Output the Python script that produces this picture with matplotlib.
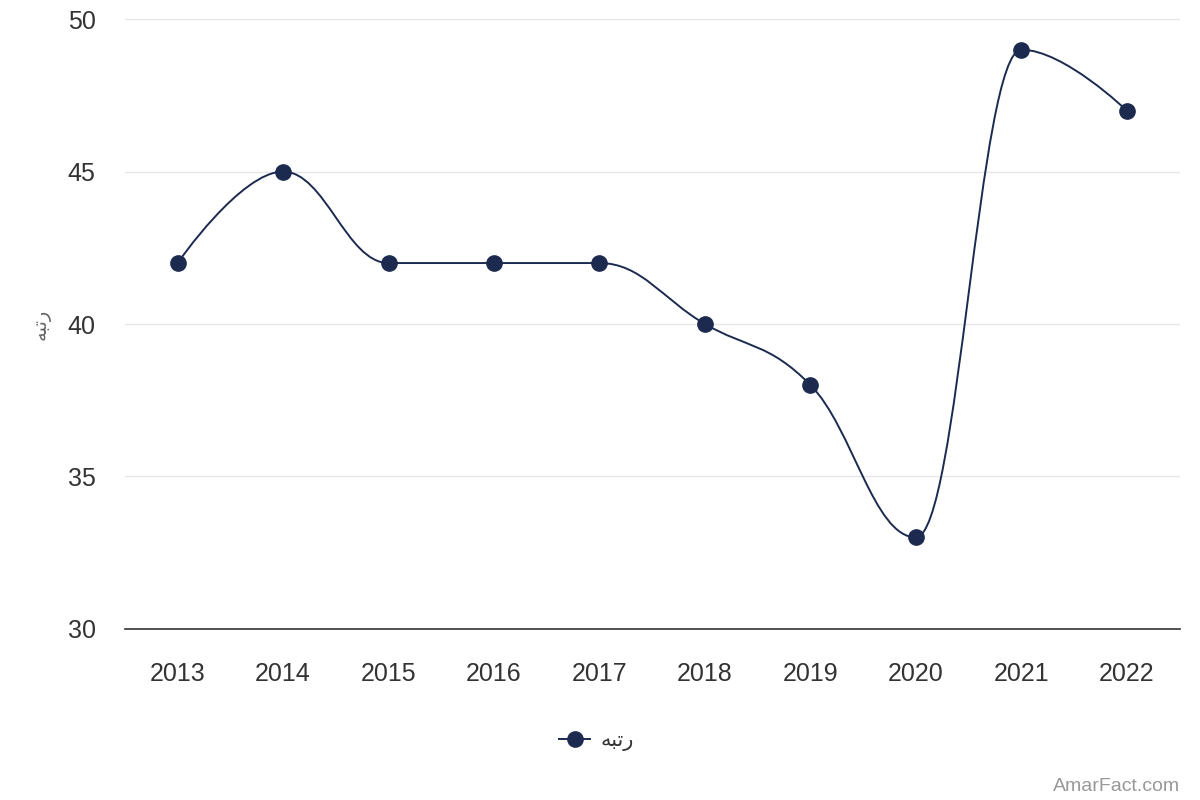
import matplotlib.pyplot as plt
from matplotlib.path import Path
from matplotlib.patches import PathPatch
from matplotlib.lines import Line2D

plt.rcParams['font.family'] = ['Liberation Sans', 'DejaVu Sans']

years = ["2013", "2014", "2015", "2016", "2017", "2018", "2019", "2020", "2021", "2022"]
rank = [42, 45, 42, 42, 42, 40, 38, 33, 49, 47]
y_ticks = [30, 35, 40, 45, 50]
series_name = "\uFEEA\uFE92\uFE97\uFEAD"  # رتبه in shaped visual order

navy = "#1b2a4e"


def spline_path(xs, ys, smoothing=1.5):
    # bezier control points like a Highcharts spline
    denom = smoothing + 1
    n = len(xs)
    verts = [(xs[0], ys[0])]
    codes = [Path.MOVETO]
    ctrl = []
    for i in range(n):
        x, y = xs[i], ys[i]
        if i == 0 or i == n - 1:
            ctrl.append((x, y, x, y))
            continue
        px, py = xs[i - 1], ys[i - 1]
        nx, ny = xs[i + 1], ys[i + 1]
        lx = (smoothing * x + px) / denom
        ly = (smoothing * y + py) / denom
        rx = (smoothing * x + nx) / denom
        ry = (smoothing * y + ny) / denom
        if rx != lx:
            corr = ((ry - ly) * (rx - x)) / (rx - lx) + y - ry
            ly += corr
            ry += corr
        if ly > max(py, y):
            ly = max(py, y)
            ry = 2 * y - ly
        elif ly < min(py, y):
            ly = min(py, y)
            ry = 2 * y - ly
        if ry > max(ny, y):
            ry = max(ny, y)
            ly = 2 * y - ry
        elif ry < min(ny, y):
            ry = min(ny, y)
            ly = 2 * y - ry
        ctrl.append((lx, ly, rx, ry))
    for i in range(1, n):
        verts += [(ctrl[i - 1][2], ctrl[i - 1][3]), (ctrl[i][0], ctrl[i][1]), (xs[i], ys[i])]
        codes += [Path.CURVE4] * 3
    return Path(verts, codes)


fig = plt.figure(figsize=(12, 8), dpi=100)
ax = fig.add_axes([0.104, 0.214, 0.879, 0.762])

xs = list(range(len(years)))
ax.add_patch(PathPatch(spline_path(xs, rank), facecolor="none", edgecolor=navy, lw=1.4, zorder=3))
ax.plot(xs, rank, "o", color=navy, markersize=11, zorder=4)

ax.set_xlim(-0.5, len(years) - 0.5)
ax.set_ylim(30, 50)
ax.set_xticks(xs)
ax.set_xticklabels(years)
ax.set_yticks(y_ticks)
ax.tick_params(axis="both", length=0, labelsize=18, colors="#333333")
ax.tick_params(axis="x", pad=24)
ax.tick_params(axis="y", pad=21)
ax.grid(axis="y", color="#e6e6e6", lw=1)
ax.set_axisbelow(True)
for s in ["top", "right", "left"]:
    ax.spines[s].set_visible(False)
ax.spines["bottom"].set_color("#333333")
ax.spines["bottom"].set_linewidth(1.2)

ax.set_ylabel(series_name, color="#666666", fontsize=14, labelpad=12, family="DejaVu Sans")

handle = Line2D([], [], color=navy, marker="o", markersize=11, lw=1.4)
fig.legend([handle], [series_name], loc="center", bbox_to_anchor=(0.497, 0.074),
           frameon=False, prop={"family": "DejaVu Sans", "size": 15},
           handlelength=1.5, handletextpad=0.5, labelcolor="#333333")

fig.text(0.983, 0.006, "AmarFact.com", ha="right", va="bottom", color="#999999", fontsize=14)

fig.savefig("out.png", dpi=100)
